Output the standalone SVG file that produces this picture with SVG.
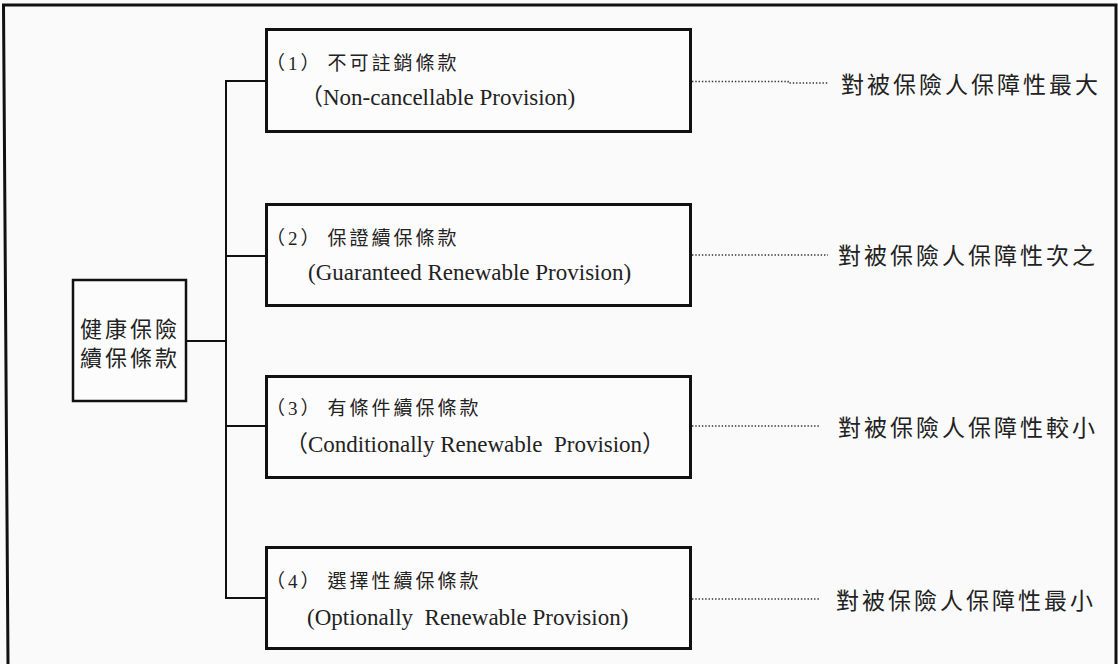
<svg xmlns="http://www.w3.org/2000/svg" width="1118" height="664" viewBox="0 0 1118 664">
  <style>
    .frame { fill: none; stroke: #111; stroke-width: 3; }
    .box { fill: #fcfcfc; stroke: #111; stroke-width: 3; }
    .rootbox { fill: #fcfcfc; stroke: #111; stroke-width: 2.5; }
    .link { fill: none; stroke: #111; stroke-width: 2; }
    .dot { fill: none; stroke: #333; stroke-width: 1.6; stroke-dasharray: 1.4 1.9; }
    .cn { font-family: "Liberation Serif", "Noto Sans CJK TC", serif; font-size: 19px; fill: #222; letter-spacing: 3px; }
    .en { font-family: "Liberation Serif", "Noto Sans CJK TC", serif; font-size: 23px; fill: #222; }
    .root { font-family: "Noto Sans CJK TC", sans-serif; font-size: 22px; fill: #222; letter-spacing: 3px; }
    .note { font-family: "Noto Sans CJK TC", sans-serif; font-size: 23px; fill: #222; letter-spacing: 3px; }
  </style>
  <rect x="0" y="0" width="1118" height="664" fill="#fafafa"/>
  <path class="frame" d="M8,664 L3.5,5 L1116,5 L1116,664"/>

  <g id="connectors">
    <line class="link" x1="187" y1="341" x2="226" y2="341"/>
    <line class="link" x1="226" y1="81" x2="226" y2="599"/>
    <line class="link" x1="225" y1="81" x2="266" y2="81"/>
    <line class="link" x1="225" y1="256" x2="266" y2="256"/>
    <line class="link" x1="225" y1="426" x2="266" y2="426"/>
    <line class="link" x1="225" y1="598" x2="266" y2="598"/>
    <path class="dot" d="M692,81.5 L788,81.5 L788,83 L829,83"/>
    <path class="dot" d="M692,255 L828,255"/>
    <path class="dot" d="M692,426 L820,426"/>
    <path class="dot" d="M692,599 L820,599"/>
  </g>

  <g id="node-root">
    <rect class="rootbox" x="73" y="280" width="113" height="121"/>
    <text class="root" x="80" y="337">健康保險</text>
    <text class="root" x="80" y="366">續保條款</text>
  </g>

  <g id="node-1">
    <rect class="box" x="266.5" y="29.5" width="424" height="102"/>
    <text class="cn" x="266" y="70"><tspan>（1）</tspan><tspan dx="5">不可註銷條款</tspan></text>
    <text class="en" x="300" y="105">（Non-cancellable Provision)</text>
  </g>

  <g id="node-2">
    <rect class="box" x="266.5" y="204.5" width="424" height="101"/>
    <text class="cn" x="266" y="245"><tspan>（2）</tspan><tspan dx="5">保證續保條款</tspan></text>
    <text class="en" x="308" y="280">(Guaranteed Renewable Provision)</text>
  </g>

  <g id="node-3">
    <rect class="box" x="266.5" y="376.5" width="424" height="101"/>
    <text class="cn" x="266" y="415"><tspan>（3）</tspan><tspan dx="5">有條件續保條款</tspan></text>
    <text class="en" x="285" y="452">（Conditionally Renewable&#160; Provision）</text>
  </g>

  <g id="node-4">
    <rect class="box" x="266.5" y="547.5" width="424" height="101"/>
    <text class="cn" x="266" y="588"><tspan>（4）</tspan><tspan dx="5">選擇性續保條款</tspan></text>
    <text class="en" x="307" y="625">(Optionally&#160; Renewable Provision)</text>
  </g>

  <g id="note-1">
    <text class="note" x="841" y="93">對被保險人保障性最大</text>
  </g>
  <g id="note-2">
    <text class="note" x="838" y="264">對被保險人保障性次之</text>
  </g>
  <g id="note-3">
    <text class="note" x="838" y="436">對被保險人保障性較小</text>
  </g>
  <g id="note-4">
    <text class="note" x="836" y="609">對被保險人保障性最小</text>
  </g>
</svg>
